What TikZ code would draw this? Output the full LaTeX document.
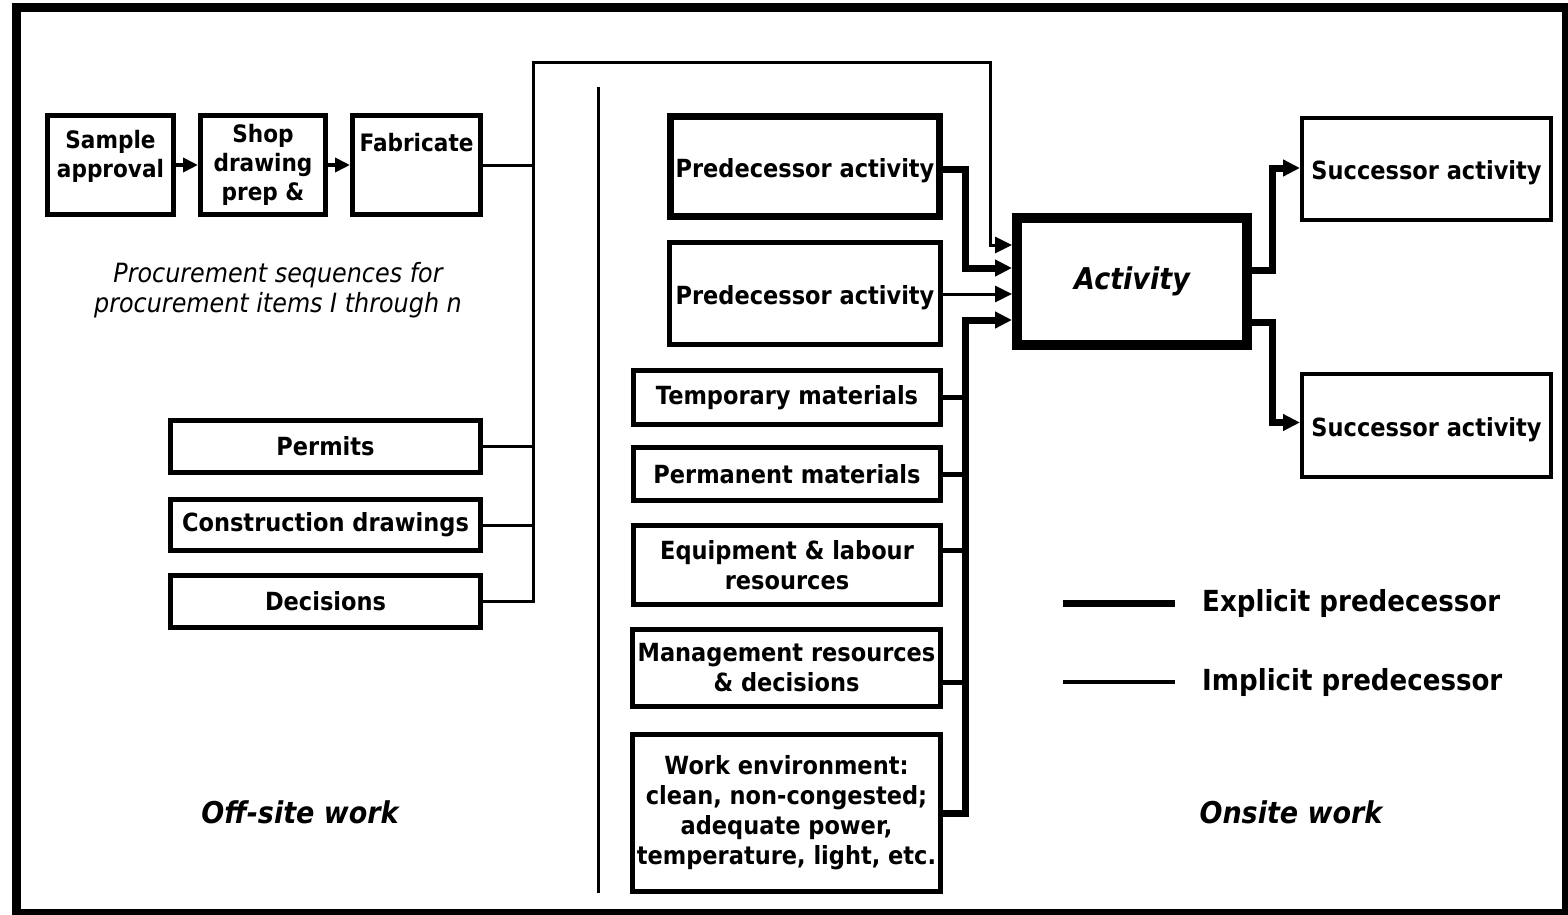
\documentclass[tikz,border=0pt]{standalone}
\usepackage{fontspec}
\setmainfont{DejaVu Sans}[FakeStretch=0.9]
\usetikzlibrary{arrows.meta}
\newcommand\boxfont{\fontsize{25}{30}\selectfont\bfseries}
\newcommand\seqfont{\fontsize{24}{29}\selectfont\bfseries}
\newcommand\actfont{\fontsize{30}{36}\selectfont\bfseries\itshape}
\newcommand\legfont{\fontsize{29}{34}\selectfont\bfseries}
\newcommand\areafont{\fontsize{30}{36}\selectfont\bfseries\itshape}
\newcommand\procfont{\fontsize{26.5}{30}\selectfont\itshape}
\begin{document}
\begin{tikzpicture}[x=1pt,y=-1pt,
  box/.style={draw, line width=5pt, inner sep=0pt, align=center, font=\boxfont},
  lowtext/.style={label={[yshift=-4pt,font=\boxfont]center:#1}},
  impl/.style={line width=3pt},
  feed/.style={line width=5pt},
  expl/.style={line width=7pt},
  arr/.style={-{Triangle[length=17pt,width=16pt]}},
  sarr/.style={line width=4pt,-{Triangle[length=15pt,width=14pt]}},
]
\useasboundingbox (0,0) rectangle (1568,915);
\clip (0,0) rectangle (1568,915);

% outer frame
\draw[line width=9pt] (16.5,8) rectangle (1566,913);

% procurement sequence
\node[box, font=\seqfont, minimum width=126pt, minimum height=99pt,
      label={[yshift=9pt,align=center,font=\seqfont]center:{Sample\\approval}}] (samp) at (110.5,165) {};
\node[box, font=\seqfont, minimum width=125pt, minimum height=99pt] (shop) at (263,165) {Shop\\drawing\\prep \&};
\node[box, font=\seqfont, minimum width=128pt, minimum height=99pt,
      label={[yshift=22pt,font=\seqfont]center:Fabricate}] (fab) at (416.5,165) {};
\node[font=\procfont, align=center] (proc) at (278,290) {Procurement sequences for\\procurement items I through n};

% off-site prerequisites
\node[box, minimum width=310pt, minimum height=52pt] (permits) at (325.5,446.5) {Permits};
\node[box, minimum width=310pt, minimum height=51pt] (cdraw) at (325.5,525) {Construction drawings};
\node[box, minimum width=310pt, minimum height=52pt] (decis) at (325.5,601.5) {Decisions};
\node[font=\areafont] (offsite) at (300,812) {Off-site work};

% divider between off-site and onsite work
\coordinate (divt) at (598,87);
\coordinate (divb) at (598,893);
\draw[line width=3pt] (divt) -- (divb);

% onsite predecessors and resources
\node[box, line width=7pt, minimum width=269pt, minimum height=100pt, lowtext=Predecessor activity] (pred1) at (805,166.5) {};
\node[box, minimum width=271pt, minimum height=102pt, lowtext=Predecessor activity] (pred2) at (805,293.5) {};
\node[box, minimum width=307pt, minimum height=54pt] (temp) at (787,397.5) {Temporary materials};
\node[box, minimum width=307pt, minimum height=53pt] (pmat) at (787,474) {Permanent materials};
\node[box, minimum width=307pt, minimum height=79pt] (equip) at (787,565) {Equipment \& labour\\resources};
\node[box, minimum width=308pt, minimum height=77pt] (mgmt) at (786.5,668) {Management resources\\\& decisions};
\node[box, minimum width=308pt, minimum height=157pt] (work) at (786.5,813) {Work environment:\\clean, non-congested;\\adequate power,\\temperature, light, etc.};

% the activity and its successors
\node[box, line width=10pt, minimum width=230pt, minimum height=127pt, font=\actfont] (act) at (1132,281.5) {Activity};
\node[box, line width=4pt, minimum width=249pt, minimum height=102pt, lowtext=Successor activity] (suc1) at (1426.5,169) {};
\node[box, line width=4pt, minimum width=249pt, minimum height=103pt, lowtext=Successor activity] (suc2) at (1426.5,425.5) {};
\node[font=\areafont] (onsite) at (1291,812) {Onsite work};

% junction points
\coordinate (jt) at (533,63);
\coordinate (dn) at (990,63);
\coordinate (bus) at (965,0);
\coordinate (in1) at ([yshift=36.5pt]act.west);
\coordinate (in2) at ([yshift=13.5pt]act.west);
\coordinate (in3) at ([yshift=-12.5pt]act.west);
\coordinate (in4) at ([yshift=-38.5pt]act.west);
\coordinate (f3) at (965,550);
\coordinate (f4) at (965,682);

% procurement chain
\draw[sarr] (samp.east) -- (shop.west);
\draw[sarr] (shop.east) -- (fab.west);

% implicit off-site links
\draw[impl] (fab.east) -- (fab.east -| jt);
\draw[impl] (permits.east) -- (permits.east -| jt);
\draw[impl] (cdraw.east) -- (cdraw.east -| jt);
\draw[impl, arr] (decis.east) -| (jt) -- (dn) |- (in1);

% predecessors into the activity
\draw[expl, arr] ([yshift=-3pt]pred1.east) -- ++(22,0) |- (in2);
\draw[impl, arr] (pred2.east |- in3) -- (in3);

% resource bus
\draw[expl, arr] (work.east) -| (bus |- in4) -- (in4);
\draw[feed] (temp.east) -- (temp.east -| bus);
\draw[feed] (pmat.east) -- (pmat.east -| bus);
\draw[feed] (equip.east |- f3) -- (f3);
\draw[feed] (mgmt.east |- f4) -- (f4);

% successors
\draw[expl, arr] ([yshift=11.5pt]act.east) -- ++(20,0) |- ([yshift=1pt]suc1.west);
\draw[expl, arr] ([yshift=-40.5pt]act.east) -- ++(20,0) |- ([yshift=3pt]suc2.west);

% legend
\coordinate (l1a) at (1063,603);
\coordinate (l1b) at (1175,603);
\coordinate (l2a) at (1063,682);
\coordinate (l2b) at (1175,682);
\draw[line width=7pt] (l1a) -- (l1b);
\draw[line width=4pt] (l2a) -- (l2b);
\node[anchor=west, inner sep=0pt, font=\legfont] (lg1) at (1202,603) {Explicit predecessor};
\node[anchor=west, inner sep=0pt, font=\legfont] (lg2) at (1202,682) {Implicit predecessor};
\end{tikzpicture}
\end{document}
